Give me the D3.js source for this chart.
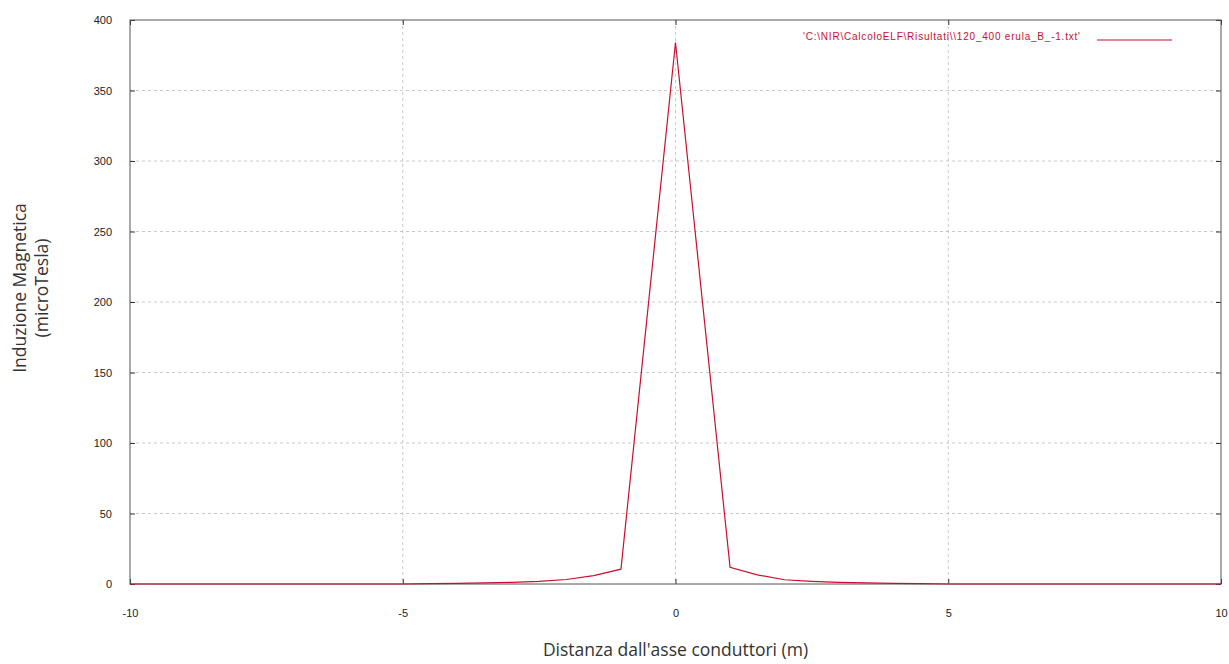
<!DOCTYPE html>
<html>
<head>
  <meta charset="utf-8">
  <script src="https://d3js.org/d3.v7.min.js"></script>
  <style type="text/css">
    body { margin: 0; background: #fff; }
    .tick text { font-family: "Liberation Sans", Arial, sans-serif; font-size: 11px; fill: #222; }
    .title { font-family: "Open Sans", "Noto Sans", sans-serif; font-size: 17.5px; fill: #333; }
  </style>
</head>
<body>
<svg id="chart" width="1229" height="664"></svg>
<script>
  // distance from the conductor axis (m) and magnetic induction (microTesla)
  const distance = [-10, -5, -4.5, -4, -3.5, -3, -2.5, -2, -1.5, -1, 0, 1, 1.5, 2, 2.5, 3, 3.5, 4, 4.5, 5, 10];
  const induction = [0, 0, 0.3, 0.5, 0.8, 1.2, 1.8, 3.2, 6, 10.5, 384, 11.8, 6.5, 3, 1.9, 1.2, 0.8, 0.5, 0.3, 0, 0];
  const xTicks = [-10, -5, 0, 5, 10];
  const yTicks = [0, 50, 100, 150, 200, 250, 300, 350, 400];
  const legendLabel = "'C:\\NIR\\CalcoloELF\\Risultati\\\\120_400 erula_B_-1.txt'";
  const xTitle = "Distanza dall'asse conduttori (m)";
  const yTitle = ["Induzione Magnetica", "(microTesla)"];

  const data = distance.map((d, i) => ({ x: d, y: induction[i] }));

  const chart = d3.select('#chart');
  const margin = { top: 20, right: 8, bottom: 80, left: 130 };
  const width = 1229 - margin.left - margin.right;
  const height = 664 - margin.top - margin.bottom;
  const g = chart.append('g').attr('transform', `translate(${margin.left} ${margin.top})`);

  const x = d3.scaleLinear().domain([-10, 10]).range([0, width]);
  const y = d3.scaleLinear().domain([0, 400]).range([height, 0]);

  // grid
  g.append('g').selectAll('line').data(xTicks.slice(1, -1)).join('line')
    .attr('x1', d => x(d)).attr('x2', d => x(d)).attr('y1', 0).attr('y2', height)
    .attr('stroke', '#bbb').attr('stroke-dasharray', '3,3').attr('stroke-width', 0.8);
  g.append('g').selectAll('line').data(yTicks.slice(1, -1)).join('line')
    .attr('x1', 0).attr('x2', width).attr('y1', d => y(d)).attr('y2', d => y(d))
    .attr('stroke', '#bbb').attr('stroke-dasharray', '3,3').attr('stroke-width', 0.8);

  // axes with inward ticks
  const fmt = d => String(d);
  const xAxis = g.append('g').attr('transform', `translate(0 ${height})`)
    .call(d3.axisBottom(x).tickValues(xTicks).tickFormat(fmt).tickSizeInner(-5).tickSizeOuter(0).tickPadding(25));
  const yAxis = g.append('g')
    .call(d3.axisLeft(y).tickValues(yTicks).tickFormat(fmt).tickSizeInner(-5).tickSizeOuter(0).tickPadding(18));
  [xAxis, yAxis].forEach(a => {
    a.select('.domain').remove();
    a.selectAll('.tick line').attr('stroke', '#333');
  });
  g.append('g').call(d3.axisTop(x).tickValues(xTicks).tickSizeInner(-5).tickSizeOuter(0).tickFormat(''))
    .call(a => a.select('.domain').remove()).selectAll('.tick line').attr('stroke', '#333');
  g.append('g').attr('transform', `translate(${width} 0)`)
    .call(d3.axisRight(y).tickValues(yTicks).tickSizeInner(-5).tickSizeOuter(0).tickFormat(''))
    .call(a => a.select('.domain').remove()).selectAll('.tick line').attr('stroke', '#333');

  g.append('rect').attr('width', width).attr('height', height)
    .attr('fill', 'none').attr('stroke', '#555').attr('stroke-width', 1);

  // series
  const line = d3.line().x(d => x(d.x)).y(d => y(d.y));
  g.append('path').datum(data)
    .attr('fill', 'none').attr('stroke', '#c8102e').attr('stroke-width', 1.2)
    .attr('d', line);

  // legend
  g.append('text').attr('x', 950).attr('y', 20).attr('text-anchor', 'end')
    .attr('font-family', '"Liberation Sans", Arial, sans-serif').attr('font-size', 10)
    .attr('fill', '#c8102e').attr('textLength', 277).text(legendLabel);
  g.append('line').attr('x1', 967).attr('x2', 1042).attr('y1', 20).attr('y2', 20)
    .attr('stroke', '#c8102e').attr('stroke-width', 1.2);

  // titles
  chart.append('text').attr('class', 'title').attr('x', margin.left + width / 2).attr('y', 656)
    .attr('text-anchor', 'middle').text(xTitle);
  const yt = chart.append('text').attr('class', 'title').attr('text-anchor', 'middle')
    .attr('transform', 'translate(26 288) rotate(-90)');
  yTitle.forEach((t, i) => yt.append('tspan').attr('x', 0).attr('dy', i === 0 ? 0 : 22).text(t));
</script>
</body>
</html>
